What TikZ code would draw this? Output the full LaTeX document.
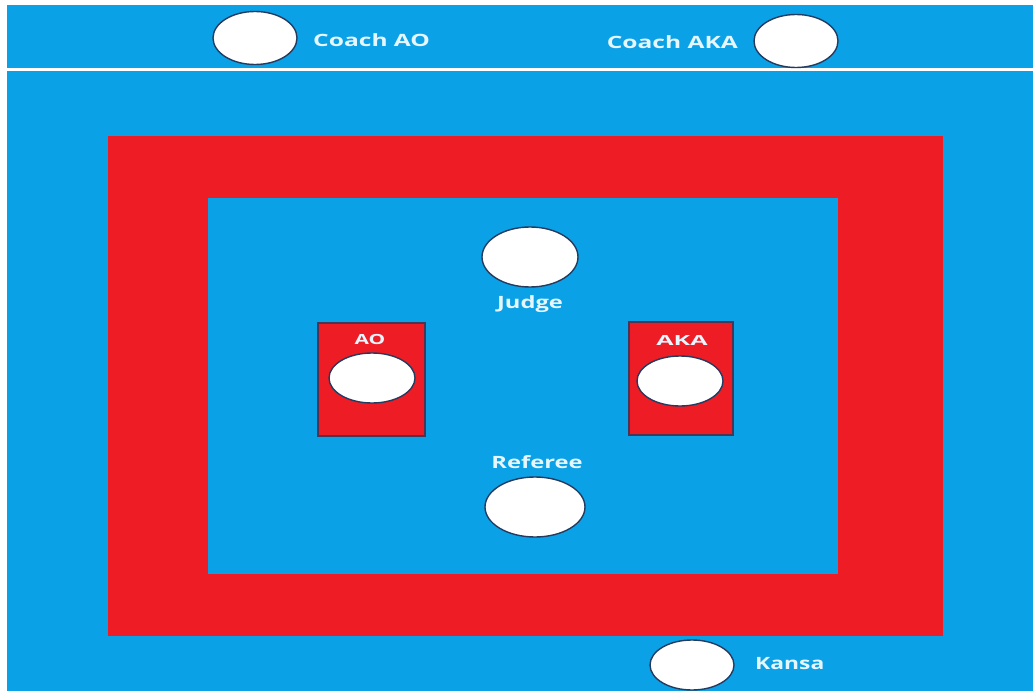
\documentclass[tikz,border=0pt]{standalone}
\usepackage{fontspec}
\usepackage{graphicx}
\setmainfont{Open Sans}
\usetikzlibrary{shapes.geometric}
\definecolor{matblue}{HTML}{0BA1E6}
\definecolor{matred}{HTML}{EE1C25}
\definecolor{edge}{HTML}{243A5E}
\definecolor{lbl}{HTML}{E6F6FF}
\newcommand\widetxt[2][1.4]{\scalebox{#1}[1]{#2}}
\tikzset{
  seat/.style={ellipse, draw=edge, line width=1.4pt, fill=white, inner sep=0pt},
  lab/.style={text=lbl, font=\bfseries\fontsize{17}{19}\selectfont, inner sep=0pt},
  padlab/.style={lab, font=\bfseries\fontsize{14}{16}\selectfont},
  pad/.style={fill=matred, draw=edge!80!matred, line width=1.4pt}
}
\begin{document}
\begin{tikzpicture}[x=1bp,y=-1bp]
\useasboundingbox (0,0) rectangle (1033,695);
\fill[white] (0,0) rectangle (1033,695);
\fill[matblue] (7,5) rectangle (1033,691);
\draw[white, line width=3bp] (7,70) -- (1033,70);
% mat
\fill[matred] (108,136) rectangle (943,636);
\fill[matblue] (208,198) rectangle (838,574);
% coaches
\node[seat, minimum width=84bp, minimum height=53bp] (cao) at (255,38) {};
\node[lab, anchor=west] (tcao) at (313,40) {\widetxt[1.45]{Coach AO}};
\node[seat, minimum width=84bp, minimum height=53bp] (caka) at (796,41) {};
\node[lab, anchor=east] (tcaka) at (738,42) {\widetxt[1.45]{Coach AKA}};
% judge
\node[seat, minimum width=96bp, minimum height=60bp] (judge) at (530,257) {};
\node[lab] (tjudge) at (530,304) {\widetxt{Judge}};
% AO / AKA pads
\draw[pad] (318,323) rectangle (425,436);
\node[padlab] (tao) at (370,340) {\widetxt[1.5]{AO}};
\node[seat, minimum width=86bp, minimum height=50bp] (ao) at (372,378) {};
\draw[pad] (629,322) rectangle (733,435);
\node[padlab] (taka) at (682,340) {\widetxt[1.8]{AKA}};
\node[seat, minimum width=86bp, minimum height=50bp] (aka) at (680,381) {};
% referee
\node[lab] (tref) at (537,462) {\widetxt{Referee}};
\node[seat, minimum width=100bp, minimum height=60bp] (ref) at (535,507) {};
% kansa
\node[seat, minimum width=84bp, minimum height=50bp] (kansa) at (692,665) {};
\node[lab, anchor=west] (tkansa) at (755,664) {\widetxt[1.35]{Kansa}};
\end{tikzpicture}
\end{document}
